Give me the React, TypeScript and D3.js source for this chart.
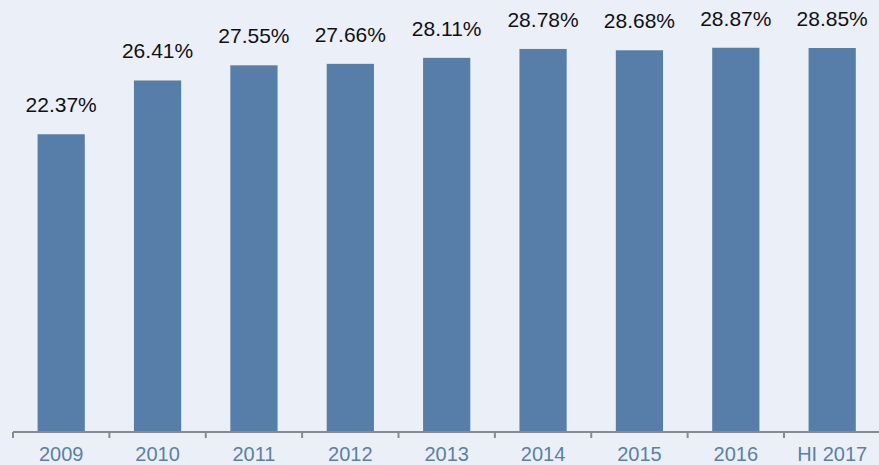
import { useEffect, useRef } from "react";
import * as d3 from "d3";

const years = ["2009", "2010", "2011", "2012", "2013", "2014", "2015", "2016", "HI 2017"];
const shares = [22.37, 26.41, 27.55, 27.66, 28.11, 28.78, 28.68, 28.87, 28.85];

const W = 879;
const H = 465;
const AXIS_Y = 432;
const X0 = 13;
const STEP = 96.375;

const BG = "#ebf0f8";
const BAR = "#577ea8";
const AXIS_TXT = "#5a80ab";
const FONT = "'Liberation Sans', Arial, Helvetica, sans-serif";

export default function App() {
  const svgRef = useRef<SVGSVGElement | null>(null);

  useEffect(() => {
    document.body.style.margin = "0";
    if (!svgRef.current) return;
    const svg = d3.select(svgRef.current);
    svg.selectAll("*").remove();

    const x = d3.scaleBand<string>()
      .domain(years)
      .range([X0, X0 + STEP * years.length])
      .padding(0);
    const y = d3.scaleLinear().domain([0, 30]).range([AXIS_Y, AXIS_Y - 13.31 * 30]);
    const barW = x.bandwidth() * 0.49;

    svg.append("rect").attr("width", W).attr("height", H).attr("fill", BG);

    const rows = years.map((yr, i) => ({ yr, v: shares[i] }));

    svg.selectAll("rect.bar")
      .data(rows)
      .join("rect")
      .attr("class", "bar")
      .attr("x", d => x(d.yr)! + x.bandwidth() / 2 - barW / 2)
      .attr("y", d => y(d.v))
      .attr("width", barW)
      .attr("height", d => y(0) - y(d.v))
      .attr("fill", BAR);

    svg.selectAll("text.val")
      .data(rows)
      .join("text")
      .attr("class", "val")
      .attr("x", d => x(d.yr)! + x.bandwidth() / 2)
      .attr("y", d => y(d.v) - 22)
      .attr("text-anchor", "middle")
      .attr("font-family", FONT)
      .attr("font-size", 21)
      .attr("fill", "#111")
      .text(d => `${d.v.toFixed(2)}%`);

    // bottom axis
    const ax = svg.append("g").attr("transform", `translate(0,${AXIS_Y})`);
    ax.append("line")
      .attr("x1", X0).attr("x2", W + 2)
      .attr("stroke", "#8a8a8a").attr("stroke-width", 2);
    ax.selectAll("line.tick")
      .data(years)
      .join("line")
      .attr("class", "tick")
      .attr("x1", d => x(d)!).attr("x2", d => x(d)!)
      .attr("y1", 0).attr("y2", 6)
      .attr("stroke", "#8a8a8a").attr("stroke-width", 2);
    ax.selectAll("text")
      .data(years)
      .join("text")
      .attr("x", d => x(d)! + x.bandwidth() / 2)
      .attr("y", 29)
      .attr("text-anchor", "middle")
      .attr("font-family", FONT)
      .attr("font-size", 20)
      .attr("fill", AXIS_TXT)
      .text(d => d);
  }, []);

  return <svg ref={svgRef} width={W} height={H} style={{ display: "block" }} />;
}
